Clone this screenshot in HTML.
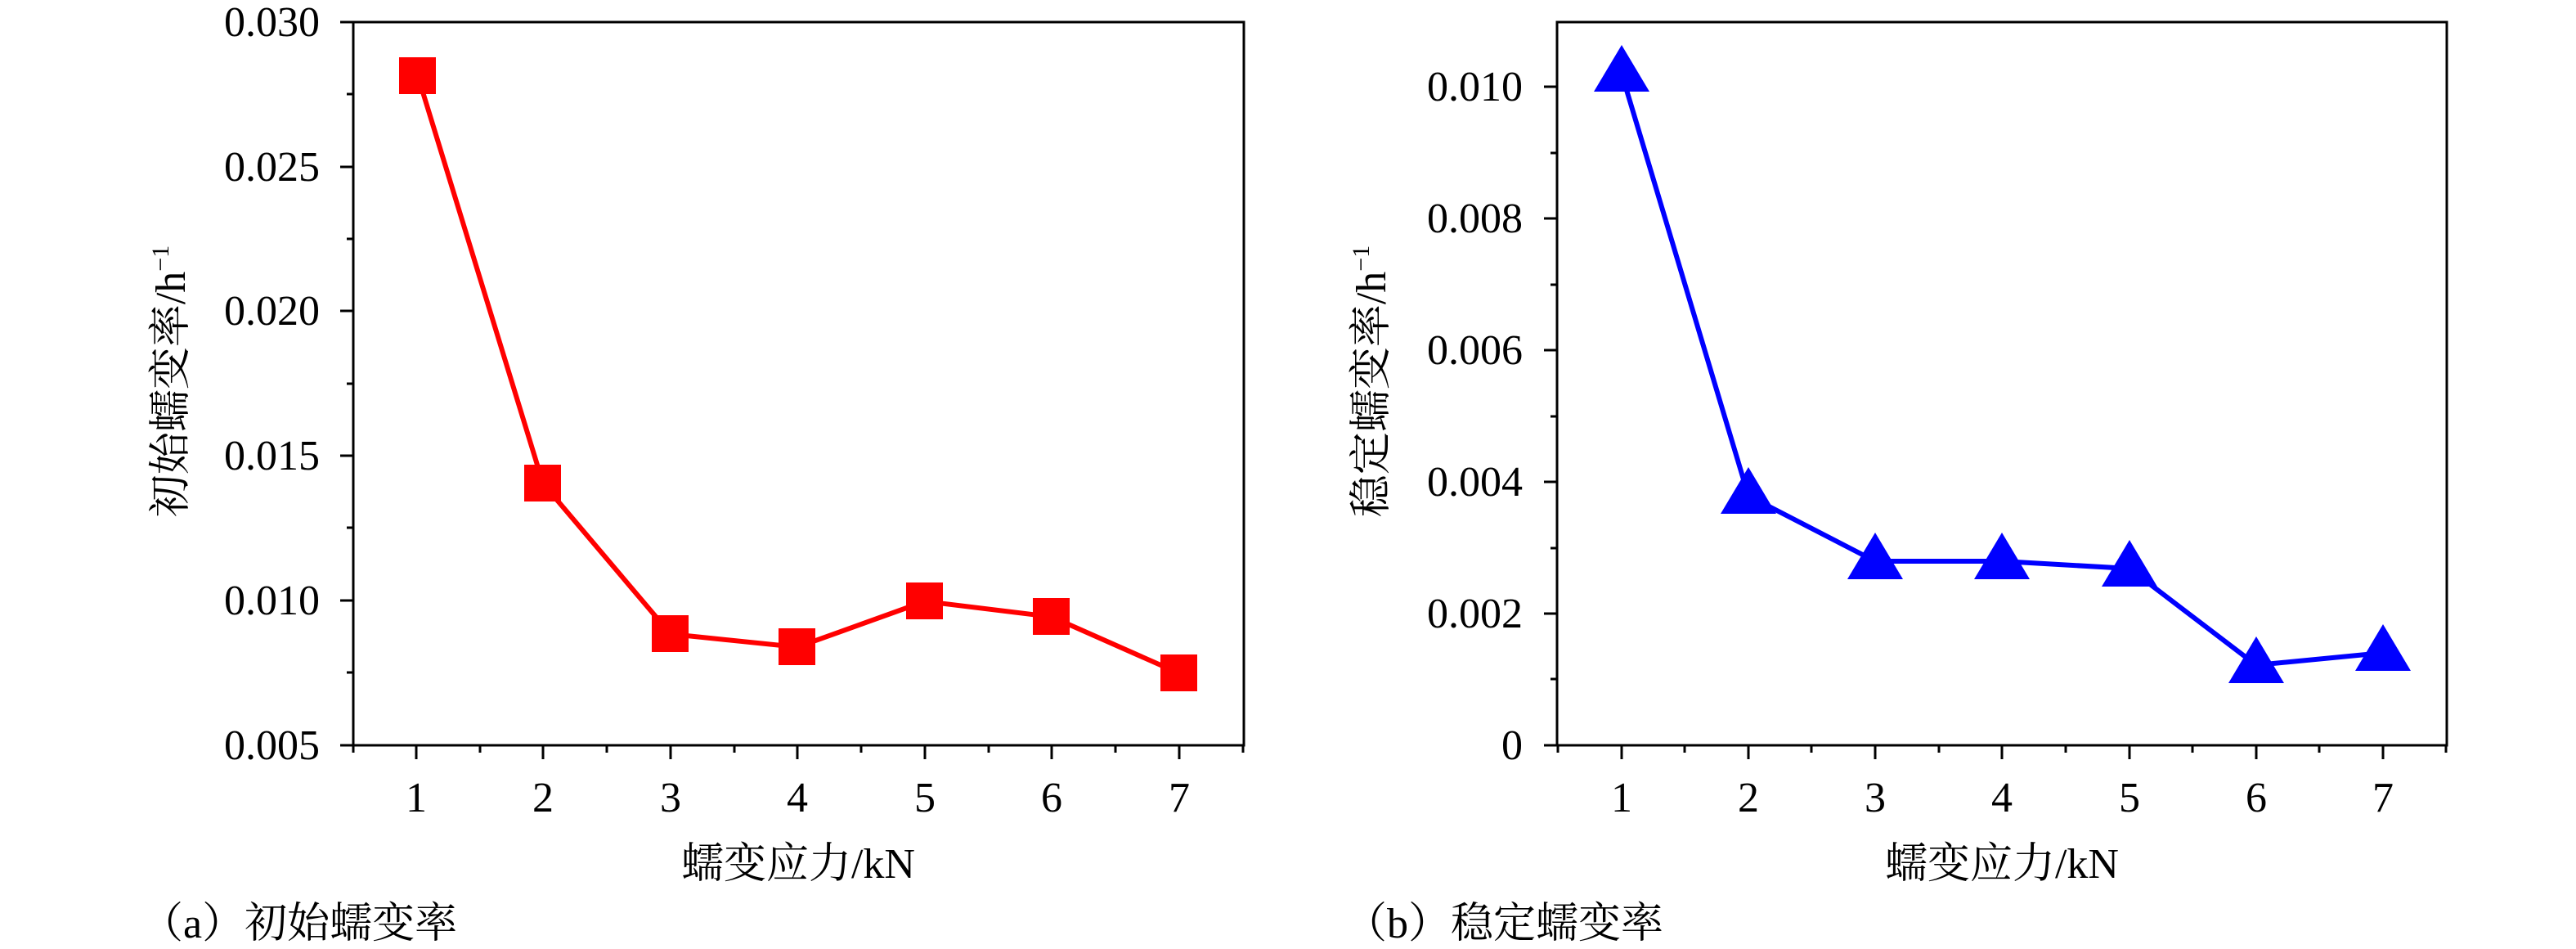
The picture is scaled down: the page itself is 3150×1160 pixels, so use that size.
<!DOCTYPE html>
<html><head><meta charset="utf-8"><style>
html,body{margin:0;padding:0;background:#fff;}
svg{display:block;}
svg text{font-family:"Liberation Serif","Times New Roman",Times,"Noto Serif CJK SC",serif !important;fill:#000;}
</style></head><body>
<svg width="3150" height="1160" viewBox="0 0 3150 1160" xmlns="http://www.w3.org/2000/svg" font-family="'Liberation Serif', 'Times New Roman', 'Noto Serif CJK SC', serif">
<g stroke="#000" stroke-width="3" fill="none">
<rect x="432" y="27" width="1089" height="884"/>
<path d="M416 27H432M416 204H432M416 380H432M416 557H432M416 734H432M416 911H432"/>
<path d="M424 115H432M424 292H432M424 469H432M424 645H432M424 822H432"/>
<path d="M509 911V928M664 911V928M820 911V928M975 911V928M1131 911V928M1286 911V928M1442 911V928"/>
<path d="M432 911V920M587 911V920M742 911V920M898 911V920M1053 911V920M1209 911V920M1364 911V920M1520 911V920"/>
</g>
<g font-size="52" text-anchor="end">
<text x="391" y="44">0.030</text><text x="391" y="221">0.025</text><text x="391" y="397">0.020</text>
<text x="391" y="574">0.015</text><text x="391" y="751">0.010</text><text x="391" y="928">0.005</text>
</g>
<g font-size="52" text-anchor="middle">
<text x="509" y="992">1</text><text x="664" y="992">2</text><text x="820" y="992">3</text><text x="975" y="992">4</text><text x="1131" y="992">5</text><text x="1286" y="992">6</text><text x="1442" y="992">7</text>
<text x="976" y="1073">蠕变应力/kN</text>
</g>
<text font-size="52" transform="translate(226,466) rotate(-90)" text-anchor="middle">初始蠕变率/h<tspan font-size="30" dy="-20">−1</tspan></text>
<text font-size="52" x="172" y="1146">（a）初始蠕变率</text>
<polyline points="511,93 664,591 820,775 975,791 1131,735 1286,754 1442,823" fill="none" stroke="#f00" stroke-width="6"/>
<g fill="#f00">
<rect x="488" y="70" width="45" height="45"/><rect x="641" y="568" width="45" height="45"/><rect x="797" y="752" width="45" height="45"/>
<rect x="952" y="768" width="45" height="45"/><rect x="1108" y="712" width="45" height="45"/><rect x="1263" y="731" width="45" height="45"/><rect x="1419" y="800" width="45" height="45"/>
</g>

<g stroke="#000" stroke-width="3" fill="none">
<rect x="1904" y="27" width="1088" height="884"/>
<path d="M1888 106H1904M1888 267H1904M1888 428H1904M1888 589H1904M1888 750H1904M1888 911H1904"/>
<path d="M1896 187H1904M1896 348H1904M1896 509H1904M1896 670H1904M1896 830H1904"/>
<path d="M1983 911V928M2138 911V928M2293 911V928M2448 911V928M2604 911V928M2759 911V928M2914 911V928"/>
<path d="M1905 911V920M2060 911V920M2215 911V920M2371 911V920M2526 911V920M2681 911V920M2836 911V920M2991 911V920"/>
</g>
<g font-size="52" text-anchor="end">
<text x="1862" y="123">0.010</text><text x="1862" y="284">0.008</text><text x="1862" y="445">0.006</text>
<text x="1862" y="606">0.004</text><text x="1862" y="767">0.002</text><text x="1862" y="928">0</text>
</g>
<g font-size="52" text-anchor="middle">
<text x="1983" y="992">1</text><text x="2138" y="992">2</text><text x="2293" y="992">3</text><text x="2448" y="992">4</text><text x="2604" y="992">5</text><text x="2759" y="992">6</text><text x="2914" y="992">7</text>
<text x="2448" y="1073">蠕变应力/kN</text>
</g>
<text font-size="52" transform="translate(1694,466) rotate(-90)" text-anchor="middle">稳定蠕变率/h<tspan font-size="30" dy="-20">−1</tspan></text>
<text font-size="52" x="1644" y="1146">（b）稳定蠕变率</text>
<polyline points="1983,90 2138,606 2293,686 2448,686 2604,695 2759,813 2914,798" fill="none" stroke="#00f" stroke-width="6"/>
<g fill="#00f">
<polygon points="1983,55 2017,112 1949,112"/>
<polygon points="2138,571 2172,628 2104,628"/>
<polygon points="2293,651 2327,708 2259,708"/>
<polygon points="2448,651 2482,708 2414,708"/>
<polygon points="2604,660 2638,717 2570,717"/>
<polygon points="2759,778 2793,835 2725,835"/>
<polygon points="2914,763 2948,820 2880,820"/>
</g>
</svg>
</body></html>
